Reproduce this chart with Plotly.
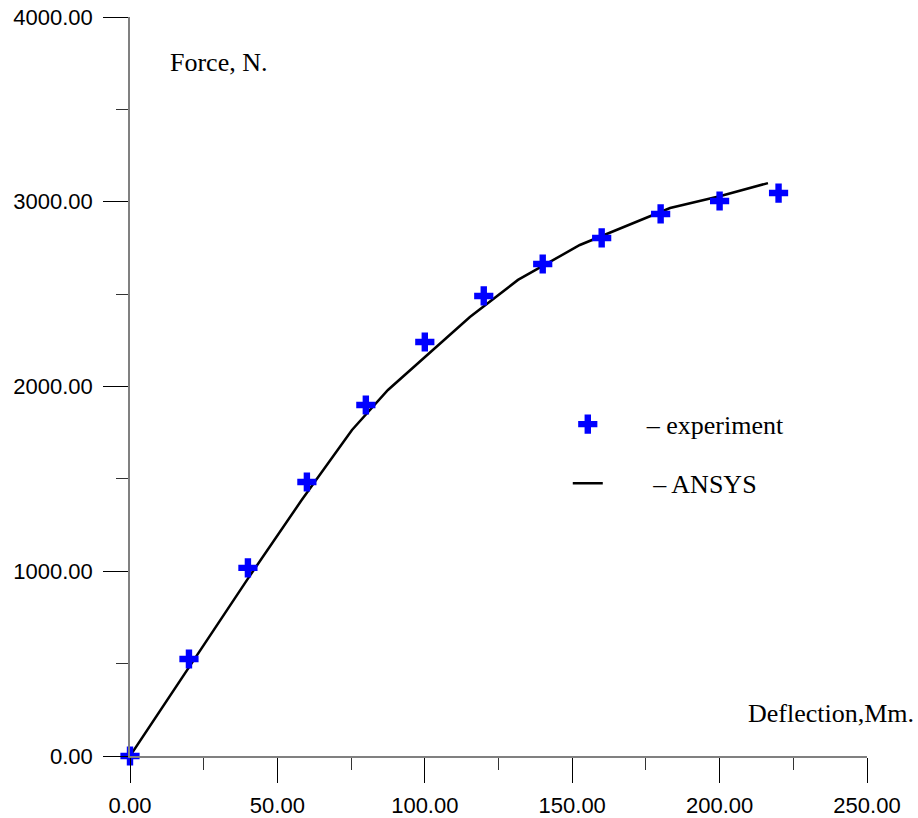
import plotly.graph_objects as go

# Experiment data (deflection, mm ; force, N)
exp_x = [0, 20, 40, 60, 80, 100, 120, 140, 160, 180, 200, 220]
exp_y = [0, 525, 1018, 1483, 1900, 2241, 2490, 2663, 2804, 2934, 3004, 3047]

# ANSYS curve
ansys_x = [0, 17.5, 40, 58, 75.3, 87.5, 100.7, 115.3, 131.6, 152.6, 183.2, 200, 216.4]
ansys_y = [0, 420, 960, 1380, 1765, 1981, 2171, 2376, 2577, 2766, 2966, 3030, 3101]

x_ticks = [0, 50, 100, 150, 200, 250]
y_ticks = [0, 1000, 2000, 3000, 4000]

NB = "\u00a0"
serif = "Liberation Serif, Times New Roman, serif"
sans = "Liberation Sans, Arial, sans-serif"

fig = go.Figure()
fig.add_trace(go.Scatter(
    x=ansys_x, y=ansys_y, mode="lines", name=NB * 7 + "– ANSYS",
    line=dict(color="#000000", width=2.5),
    legend="legend2", cliponaxis=False,
))
fig.add_trace(go.Scatter(
    x=exp_x, y=exp_y, mode="markers", name=NB * 6 + "– experiment",
    marker=dict(symbol="cross", size=16, color="#0000ff", line=dict(width=0)),
    legend="legend", cliponaxis=False,
))

axis_common = dict(
    showgrid=False, zeroline=False, showline=True, linecolor="#808080", linewidth=1.5,
    ticks="outside", ticklen=25, tickwidth=1.2, tickcolor="#000000",
    tickformat=".2f", tickfont=dict(family=sans, size=22, color="#000000"),
    minor=dict(ticks="outside", ticklen=12, tickwidth=1.2, tickcolor="#333333"),
    automargin=False, ticklabeloverflow="allow",
)

fig.update_xaxes(range=[0, 250], tickvals=x_ticks, minor_dtick=25,
                 ticklabelstandoff=4, **axis_common)
fig.update_yaxes(range=[0, 4000], tickvals=y_ticks, minor_dtick=500,
                 ticklabelstandoff=6, **axis_common)

fig.update_layout(
    width=918, height=818,
    margin=dict(l=130, r=51, t=17, b=62, autoexpand=False),
    plot_bgcolor="white", paper_bgcolor="white",
    showlegend=True,
    legend=dict(x=0.594, y=0.449, xanchor="left", yanchor="middle",
                font=dict(family=serif, size=26, color="#000"), bgcolor="rgba(0,0,0,0)"),
    legend2=dict(x=0.594, y=0.369, xanchor="left", yanchor="middle",
                 font=dict(family=serif, size=26, color="#000"), bgcolor="rgba(0,0,0,0)"),
    annotations=[
        dict(text="Force, N.", xref="paper", yref="paper", x=0.0516, y=0.938,
             xanchor="left", yanchor="middle", showarrow=False,
             font=dict(family=serif, size=26, color="#000")),
        dict(text="Deflection,Mm.", xref="paper", yref="paper", x=1.067, y=0.057,
             xanchor="right", yanchor="middle", showarrow=False,
             font=dict(family=serif, size=26, color="#000")),
    ],
)

fig.write_html(
    "out.html",
    config={"displayModeBar": False},
    post_script="document.body.style.margin='0';document.body.style.overflow='hidden';",
)
